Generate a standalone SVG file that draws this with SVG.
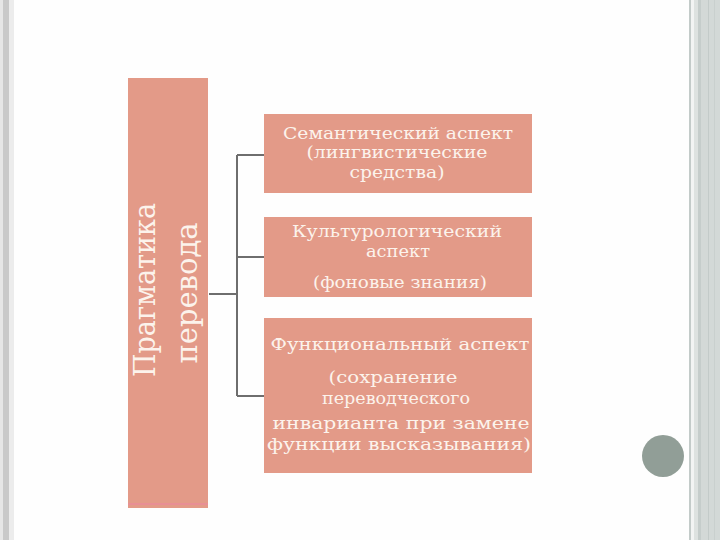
<svg xmlns="http://www.w3.org/2000/svg" width="720" height="540" viewBox="0 0 720 540">
<style>
.box{fill:#e39a88}
.t{font-family:"DejaVu Serif","Liberation Serif",serif;fill:#fcf3ec;text-anchor:middle;font-size:16px}
.v{font-family:"DejaVu Serif","Liberation Serif",serif;fill:#fcf3ec;text-anchor:middle;font-size:30px}
.c{stroke:#6e6e6e;stroke-width:2;fill:none}
</style>
<rect width="720" height="540" fill="#fefefe"/>
<g id="frame">
<rect x="0" y="0" width="3" height="540" fill="#e6e6e6"/>
<rect x="3" y="0" width="6" height="540" fill="#c9c9c9"/>
<rect x="9" y="0" width="5" height="540" fill="#ececec"/>
<rect x="689" y="0" width="2" height="540" fill="#c3cbc9"/>
<rect x="691" y="0" width="3" height="540" fill="#f2f4f3"/>
<rect x="694" y="0" width="4" height="540" fill="#dde2e0"/>
<rect x="698" y="0" width="3" height="540" fill="#c5cdcb"/>
<rect x="701" y="0" width="19" height="540" fill="#d3d9d7"/>
<rect x="708" y="0" width="1" height="540" fill="#c3cbc9"/>
<rect x="714" y="0" width="1" height="540" fill="#c9d0ce"/>
<ellipse cx="663" cy="456" rx="21" ry="21" fill="#919e97"/>
</g>
<g id="connectors">
<path class="c" d="M209,294 H237 M237,155 V396 M237,155 H265 M237,257 H265 M237,396 H265"/>
</g>
<g id="root">
<rect class="box" x="128" y="78" width="80" height="430"/>
<rect x="128" y="503" width="80" height="2" fill="#e88f95"/>
<text class="v" transform="translate(155,290) rotate(-90)" textLength="174" lengthAdjust="spacingAndGlyphs">Прагматика</text>
<text class="v" transform="translate(197,293) rotate(-90)" textLength="141" lengthAdjust="spacingAndGlyphs">перевода</text>
</g>
<g id="n1">
<rect class="box" x="264" y="114" width="268" height="79"/>
<text class="t" x="398" y="139" textLength="230" lengthAdjust="spacingAndGlyphs">Семантический аспект</text>
<text class="t" x="397" y="158" textLength="181" lengthAdjust="spacingAndGlyphs">(лингвистические</text>
<text class="t" x="397" y="178" textLength="95" lengthAdjust="spacingAndGlyphs">средства)</text>
</g>
<g id="n2">
<rect class="box" x="264" y="217" width="268" height="80"/>
<text class="t" x="397" y="237" textLength="210" lengthAdjust="spacingAndGlyphs">Культурологический</text>
<text class="t" x="398" y="257" textLength="64" lengthAdjust="spacingAndGlyphs">аспект</text>
<text class="t" x="400" y="288" textLength="174" lengthAdjust="spacingAndGlyphs">(фоновые знания)</text>
</g>
<g id="n3">
<rect class="box" x="264" y="318" width="268" height="155"/>
<text class="t" x="400" y="350" textLength="259" lengthAdjust="spacingAndGlyphs">Функциональный аспект</text>
<text class="t" x="393" y="383" textLength="129" lengthAdjust="spacingAndGlyphs">(сохранение</text>
<text class="t" x="396" y="404" textLength="148" lengthAdjust="spacingAndGlyphs">переводческого</text>
<text class="t" x="401" y="429" textLength="257" lengthAdjust="spacingAndGlyphs">инварианта при замене</text>
<text class="t" x="399" y="450" textLength="264" lengthAdjust="spacingAndGlyphs">функции высказывания)</text>
</g>
</svg>
